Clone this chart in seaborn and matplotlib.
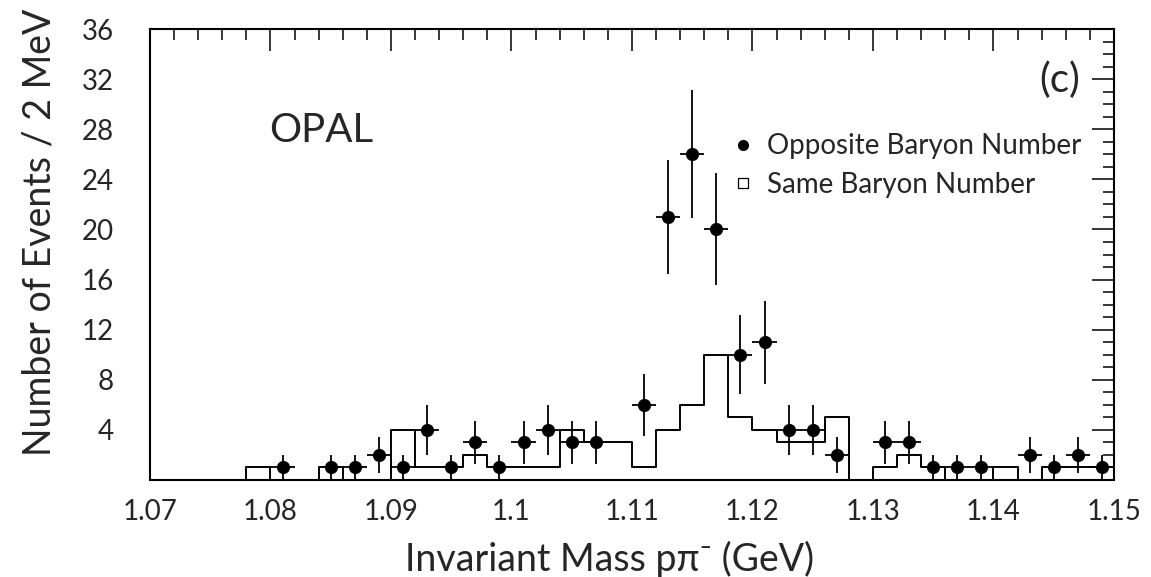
import numpy as np
import pandas as pd
import matplotlib
matplotlib.use("Agg")
import matplotlib.pyplot as plt
import seaborn as sns
from matplotlib.lines import Line2D
from matplotlib.ticker import MultipleLocator, FormatStrFormatter

sns.set_style("white")
plt.rcParams['font.family'] = ['Lato', 'DejaVu Sans']

# bin edges (GeV), 2 MeV bins
bin_lo = 1.070
bin_hi = 1.150
bin_w = 0.002

# Same baryon number: one count per 2 MeV bin, from 1.070 to 1.150
same_counts = [0, 0, 0, 0, 1, 0, 0, 1, 0, 0,
               4, 1, 1, 2, 1, 1, 1, 4, 3, 3,
               1, 4, 6, 10, 5, 4, 3, 3, 5, 0,
               1, 2, 1, 0, 0, 1, 0, 1, 1, 1]

# Opposite baryon number: same binning
opp_counts = [0, 0, 0, 0, 0, 1, 0, 1, 1, 2,
              1, 4, 1, 3, 1, 3, 4, 3, 3, 0,
              6, 21, 26, 20, 10, 11, 4, 4, 2, 0,
              3, 3, 1, 1, 1, 0, 2, 1, 2, 1]

edges = np.round(np.arange(bin_lo, bin_hi + bin_w / 2, bin_w), 4)
centers = (edges[:-1] + edges[1:]) / 2

df_same = pd.DataFrame({'mass': centers, 'n': same_counts})
df_opp = pd.DataFrame({'mass': centers, 'n': opp_counts})
df_opp = df_opp[df_opp['n'] > 0]

fig = plt.figure(figsize=(11.51, 5.77), dpi=100)
ax = fig.add_axes([0.1303, 0.1681, 0.8375, 0.7816])

# histogram for same baryon number
sns.histplot(data=df_same, x='mass', weights='n', bins=list(edges), element='step',
             fill=False, color='black', linewidth=1.4, ax=ax)

# data points with sqrt(N) errors
ax.errorbar(df_opp['mass'], df_opp['n'], yerr=np.sqrt(df_opp['n']),
            xerr=bin_w / 2, fmt='none', ecolor='black', elinewidth=1.3, capsize=0)
sns.scatterplot(data=df_opp, x='mass', y='n', color='black', s=90,
                edgecolor='black', linewidth=0, ax=ax, zorder=5)

ax.set_xlim(bin_lo, bin_hi)
ax.set_ylim(0, 36)
ax.xaxis.set_major_locator(MultipleLocator(0.01))
ax.xaxis.set_minor_locator(MultipleLocator(0.002))
ax.yaxis.set_major_locator(MultipleLocator(4))
ax.yaxis.set_minor_locator(MultipleLocator(1))
ax.xaxis.set_major_formatter(FormatStrFormatter('%g'))
ax.set_yticks(np.arange(4, 37, 4))
ax.tick_params(which='both', direction='in', top=True, right=True,
               labelsize=20, width=1.1, color='black')
ax.tick_params(axis='x', which='both', pad=14)
ax.tick_params(axis='y', which='both', pad=26)
ax.tick_params(which='major', length=16)
ax.tick_params(which='minor', length=8)
for s in ax.spines.values():
    s.set_linewidth(1.5)
    s.set_color('black')

ax.set_xlabel('Invariant Mass pπ⁻ (GeV)', fontsize=27)
ax.set_ylabel('Number of Events / 2 MeV', fontsize=27)
ax.xaxis.set_label_coords(0.477, -0.135)
ax.yaxis.set_label_coords(-0.096, 0.55)

ax.text(0.124, 0.776, 'OPAL', transform=ax.transAxes, fontsize=29, va='center')
ax.text(0.965, 0.887, '(c)', transform=ax.transAxes, fontsize=29, ha='right', va='center')

handles = [Line2D([], [], marker='o', color='black', linestyle='none', markersize=7),
           Line2D([], [], marker='s', markerfacecolor='white', markeredgecolor='black',
                  markeredgewidth=0.9, linestyle='none', markersize=7)]
ax.legend(handles, ['Opposite Baryon Number', 'Same Baryon Number'],
          loc='upper left', bbox_to_anchor=(0.572, 0.824), frameon=False,
          fontsize=20, handletextpad=0.25, labelspacing=0.45, handlelength=1.2)

fig.savefig('out.png', dpi=100)
